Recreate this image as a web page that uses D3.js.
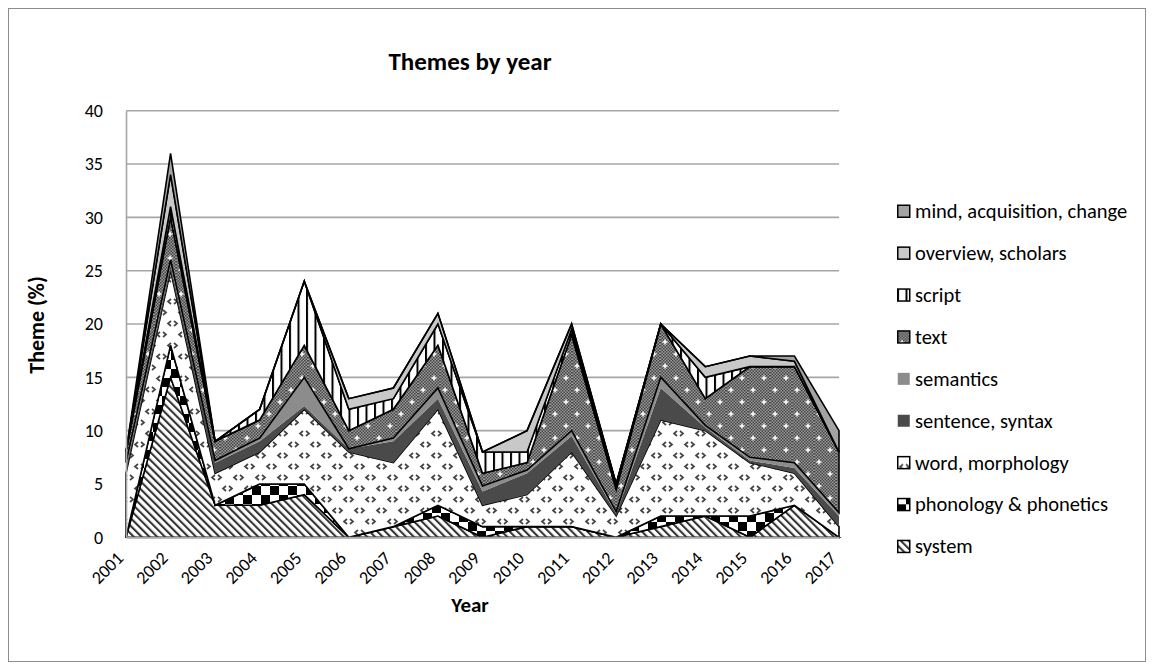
<!DOCTYPE html>
<html>
<head>
<meta charset="utf-8">
<script src="https://cdn.jsdelivr.net/npm/d3@7"></script>
<style>
  html, body { margin: 0; padding: 0; background: #fff; }
  svg { display: block; font-family: Carlito, Calibri, Lato, sans-serif; }
</style>
</head>
<body>
<svg id="chart" width="1152" height="669"></svg>
<script>
// Theme shares (%) per year, stacked bottom to top
const years = [2001, 2002, 2003, 2004, 2005, 2006, 2007, 2008, 2009, 2010, 2011, 2012, 2013, 2014, 2015, 2016, 2017];
const system      = [0, 15, 3,   3,   4,   0,   1,   2,   0,   1,   1,   0,   1,   2,   0,   3,   0];
const phonology   = [0, 3,  0,   2,   1,   0,   0,   1,   1,   0,   0,   0,   1,   0,   2,   0,   0];
const word        = [6, 7,  3,   3,   7,   8,   6,   9,   2,   3,   7,   2,   9,   8,   5,   3,   1];
const sentence    = [0.5, 0.5, 1, 1, 0.3, 0.3, 2,   1,   1.3, 2,   1.5, 0.2, 3,   0.3, 0.2, 0.5, 1];
const semantics   = [0.5, 0.5, 0.2, 0.3, 2.7, 0, 0.3, 1,   0.5, 0.3, 0.5, 0.2, 1,   0.2, 0.3, 0.5, 0.3];
const text        = [1, 4,  1.8, 1.7, 3,   1.7, 2.7, 4,   1.2, 0.7, 9,   2.1, 5,   2.5, 8.5, 9,   5.7];
const script      = [0, 1,  0,   1,   6,   2,   1,   2,   2,   1,   0.5, 0.5, 0,   2,   0,   0,   0];
const overview    = [0, 3,  0,   0,   0,   1,   1,   1,   0,   2,   0.5, 0,   0,   1,   1,   0.5, 0];
const mind        = [0, 2,  0,   0,   0,   0,   0,   0,   0,   0,   0,   0,   0,   0,   0,   0.5, 2];

const seriesNames = ["system", "phonology & phonetics", "word, morphology", "sentence, syntax",
  "semantics", "text", "script", "overview, scholars", "mind, acquisition, change"];
const seriesValues = [system, phonology, word, sentence, semantics, text, script, overview, mind];
const yTicks = [0, 5, 10, 15, 20, 25, 30, 35, 40];

const rows = years.map((yr, i) => {
  const r = { year: yr };
  seriesNames.forEach((n, k) => { r[n] = seriesValues[k][i]; });
  return r;
});

const svg = d3.select("#chart");
const defs = svg.append("defs");

// --- fill patterns ---
// system: diagonal hatch
const pSys = defs.append("pattern").attr("id", "p-system").attr("patternUnits", "userSpaceOnUse")
  .attr("width", 5.5).attr("height", 5.5).attr("patternTransform", "rotate(-45)");
pSys.append("rect").attr("width", 5.5).attr("height", 5.5).attr("fill", "#fff");
pSys.append("rect").attr("width", 2.1).attr("height", 5.5).attr("fill", "#333");

// phonology: large checkerboard
const pPh = defs.append("pattern").attr("id", "p-phon").attr("patternUnits", "userSpaceOnUse")
  .attr("width", 18).attr("height", 18);
pPh.append("rect").attr("width", 18).attr("height", 18).attr("fill", "#fff");
pPh.append("rect").attr("width", 9).attr("height", 9).attr("fill", "#000");
pPh.append("rect").attr("x", 9).attr("y", 9).attr("width", 9).attr("height", 9).attr("fill", "#000");

// word: divot marks on white
const pW = defs.append("pattern").attr("id", "p-word").attr("patternUnits", "userSpaceOnUse")
  .attr("width", 22).attr("height", 22);
pW.append("rect").attr("width", 22).attr("height", 22).attr("fill", "#fff");
["M6,2 L3,4.5 L6,7", "M9,2 L12,4.5 L9,7", "M17,13 L14,15.5 L17,18",
 "M20,13 L23,15.5 L20,18", "M-2,13 L1,15.5 L-2,18"].forEach(d => {
  pW.append("path").attr("d", d).attr("fill", "none").attr("stroke", "#444").attr("stroke-width", 1.7);
});

// text: fine grey dither with white crosses
const pFine = defs.append("pattern").attr("id", "p-fine").attr("patternUnits", "userSpaceOnUse")
  .attr("width", 3).attr("height", 3);
pFine.append("rect").attr("width", 3).attr("height", 3).attr("fill", "#9a9a9a");
pFine.append("rect").attr("width", 1.5).attr("height", 1.5).attr("fill", "#444");
pFine.append("rect").attr("x", 1.5).attr("y", 1.5).attr("width", 1.5).attr("height", 1.5).attr("fill", "#444");
const pT = defs.append("pattern").attr("id", "p-text").attr("patternUnits", "userSpaceOnUse")
  .attr("width", 22).attr("height", 24);
pT.append("rect").attr("width", 22).attr("height", 24).attr("fill", "url(#p-fine)");
[[5, 6], [16, 18]].forEach(([cx, cy]) => {
  pT.append("path").attr("d", `M${cx - 2.5},${cy} H${cx + 2.5} M${cx},${cy - 2.5} V${cy + 2.5}`)
    .attr("stroke", "#fff").attr("stroke-width", 1.5);
});

// script: vertical stripes
const pS = defs.append("pattern").attr("id", "p-script").attr("patternUnits", "userSpaceOnUse")
  .attr("width", 8.5).attr("height", 8);
pS.append("rect").attr("width", 8.5).attr("height", 8).attr("fill", "#fff");
pS.append("rect").attr("width", 2).attr("height", 8).attr("fill", "#000");

const fills = {
  "system": "url(#p-system)",
  "phonology & phonetics": "url(#p-phon)",
  "word, morphology": "url(#p-word)",
  "sentence, syntax": "#4a4a4a",
  "semantics": "#8c8c8c",
  "text": "url(#p-text)",
  "script": "url(#p-script)",
  "overview, scholars": "#c8c8c8",
  "mind, acquisition, change": "#a3a3a3"
};
const outlined = {
  "system": true, "phonology & phonetics": true, "word, morphology": true,
  "sentence, syntax": false, "semantics": false, "text": true, "script": true,
  "overview, scholars": true, "mind, acquisition, change": true
};

// --- frame ---
svg.append("rect").attr("x", 8.5).attr("y", 8.5).attr("width", 1137).attr("height", 653)
  .attr("fill", "#fff").attr("stroke", "#8c8c8c").attr("stroke-width", 1);

const plotLeft = 126, plotRight = 839, plotTop = 110.7, plotBottom = 537.3;
const x = d3.scalePoint().domain(years).range([plotLeft, plotRight]);
const y = d3.scaleLinear().domain([0, 40]).range([plotBottom, plotTop]);

// gridlines
svg.append("g").selectAll("line").data(yTicks.filter(d => d > 0)).join("line")
  .attr("x1", plotLeft).attr("x2", plotRight).attr("y1", d => y(d)).attr("y2", d => y(d))
  .attr("stroke", "#a6a6a6").attr("stroke-width", 1.6);

// stacked areas
const stack = d3.stack().keys(seriesNames);
const layers = stack(rows);
const area = d3.area()
  .x(d => x(d.data.year))
  .y0(d => y(d[0]))
  .y1(d => y(d[1]));

svg.append("g").selectAll("path").data(layers).join("path")
  .attr("d", area)
  .attr("fill", d => fills[d.key])
  .attr("stroke", d => outlined[d.key] ? "#000" : "none")
  .attr("stroke-width", 1.6)
  .attr("stroke-linejoin", "miter");

// axes
const fontFam = "Carlito, Calibri, Lato, sans-serif";
const yAxis = d3.axisLeft(y).tickValues(yTicks).tickSize(0).tickPadding(23);
const gy = svg.append("g").attr("transform", `translate(${plotLeft},0)`).call(yAxis);
gy.select(".domain").attr("stroke", "#a6a6a6").attr("stroke-width", 1.6);
gy.selectAll("text").attr("font-size", 18).attr("fill", "#000").attr("font-family", fontFam);

const xAxis = d3.axisBottom(x).tickSize(0).tickPadding(0);
const gx = svg.append("g").attr("transform", `translate(0,${plotBottom})`).call(xAxis);
gx.select(".domain").attr("stroke", "#a6a6a6").attr("stroke-width", 2);
gx.selectAll("text")
  .attr("font-size", 18).attr("fill", "#000").attr("font-family", fontFam)
  .attr("text-anchor", "end").attr("dy", 0).attr("y", 0)
  .attr("transform", "translate(-2,22) rotate(-45)");

// titles
svg.append("text").attr("x", 470).attr("y", 70).attr("text-anchor", "middle")
  .attr("font-size", 25).attr("font-weight", "bold").text("Themes by year");
svg.append("text").attr("transform", "translate(44,325) rotate(-90)").attr("text-anchor", "middle")
  .attr("font-size", 22).attr("font-weight", "bold").text("Theme (%)");
svg.append("text").attr("x", 470).attr("y", 612).attr("text-anchor", "middle")
  .attr("font-size", 21).attr("font-weight", "bold").text("Year");

// legend (top entry is the top layer)
const legendNames = seriesNames.slice().reverse();
const lg = svg.append("g").selectAll("g").data(legendNames).join("g")
  .attr("transform", (d, i) => `translate(897,${211 + i * 41.9})`);
lg.append("rect").attr("x", 0.75).attr("y", -5.75).attr("width", 12).attr("height", 12)
  .attr("fill", d => fills[d])
  .attr("stroke", d => outlined[d] ? "#000" : "none").attr("stroke-width", 1.5);
lg.append("text").attr("x", 18).attr("y", 0).attr("dy", "0.35em")
  .attr("font-size", 20.5).text(d => d);
</script>
</body>
</html>
